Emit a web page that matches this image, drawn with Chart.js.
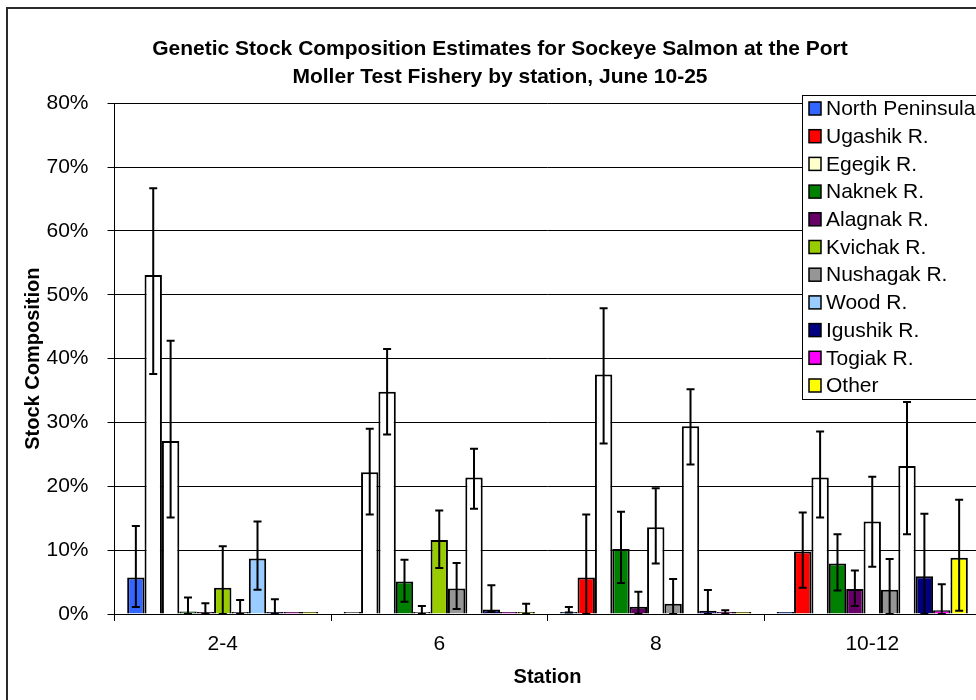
<!DOCTYPE html>
<html><head><meta charset="utf-8">
<script src="https://cdn.jsdelivr.net/npm/chart.js@4.4.1/dist/chart.umd.min.js"></script>
<style>
html,body{margin:0;padding:0;background:#fff;}
#wrap{position:relative;width:976px;height:700px;overflow:hidden;background:#fff;}
#frame{position:absolute;left:6px;top:7px;width:1100px;height:800px;border:2px solid #2b2b2b;pointer-events:none;}
canvas{position:absolute;left:0;top:0;}
</style></head><body>
<div id="wrap"><canvas id="c" width="1000" height="720"></canvas><div id="frame"></div></div>
<script>
// ---- data (percent) ----
const stations = ['2-4', '6', '8', '10-12'];
const stocks = ['North Peninsula', 'Ugashik R.', 'Egegik R.', 'Naknek R.', 'Alagnak R.', 'Kvichak R.', 'Nushagak R.', 'Wood R.', 'Igushik R.', 'Togiak R.', 'Other'];
const yTickLabels = ['0%', '10%', '20%', '30%', '40%', '50%', '60%', '70%', '80%'];

const northPeninsula = [5.7, 0.2, 0.25, 0.05];
const ugashik        = [53.1, 22.2, 5.7, 9.8];
const egegik         = [27.1, 34.8, 37.5, 21.4];
const naknek         = [0.4, 5.1, 10.2, 7.9];
const alagnak        = [0.2, 0.2, 1.15, 3.9];
const kvichak        = [4.1, 11.6, 13.6, 14.5];
const nushagak       = [0.25, 4.0, 1.6, 3.8];
const wood           = [8.7, 21.4, 29.4, 23.2];
const igushik        = [0.3, 0.7, 0.5, 5.9];
const togiak         = [0.1, 0, 0.1, 0.6];
const other          = [0.05, 0.2, 0.05, 8.8];

// lower / upper interval bounds
const northPeninsulaLow = [1.1, 0.2, 0.25, 0.05], northPeninsulaHigh = [13.8, 0.2, 1.1, 0.05];
const ugashikLow  = [37.6, 15.6, 0, 4.1],   ugashikHigh  = [66.7, 29.0, 15.6, 15.9];
const egegikLow   = [15.1, 28.1, 26.7, 15.1], egegikHigh = [42.8, 41.5, 47.9, 28.6];
const naknekLow   = [0, 1.9, 4.85, 3.7],     naknekHigh   = [2.6, 8.5, 16.0, 12.5];
const alagnakLow  = [0, 0, 0, 1.25],         alagnakHigh  = [1.7, 1.25, 3.5, 6.8];
const kvichakLow  = [0, 7.2, 7.9, 7.4],      kvichakHigh  = [10.6, 16.2, 19.7, 21.5];
const nushagakLow = [0, 0.8, 0, 0],          nushagakHigh = [2.2, 8.0, 5.5, 8.6];
const woodLow     = [3.8, 16.5, 23.4, 12.5], woodHigh     = [14.5, 25.9, 35.2, 33.2];
const igushikLow  = [0, 0.3, 0, 0],          igushikHigh  = [2.3, 4.5, 3.75, 15.7];
const togiakLow   = [0.1, 0, 0, 0],          togiakHigh   = [0.1, 0, 0.6, 4.65];
const otherLow    = [0.05, 0, 0.05, 0.5],    otherHigh    = [0.05, 1.6, 0.05, 17.9];

// ---- styles ----
const stockColors = ['#3366FF', '#FF0000', '#FFFFCC', '#008000', '#660066', '#99CC00', '#969696', '#99CCFF', '#000080', '#FF00FF', '#FFFF00'];
// bars drawn with white fill in the original: [stockIndex, stationIndex]
const whiteBars = [[1,0],[2,0],[0,1],[1,1],[2,1],[4,1],[7,1],[2,2],[5,2],[7,2],[2,3],[5,3],[7,3]];
const FONT = '"Liberation Sans", Arial, sans-serif';

const values = [northPeninsula, ugashik, egegik, naknek, alagnak, kvichak, nushagak, wood, igushik, togiak, other];
const lows = [northPeninsulaLow, ugashikLow, egegikLow, naknekLow, alagnakLow, kvichakLow, nushagakLow, woodLow, igushikLow, togiakLow, otherLow];
const highs = [northPeninsulaHigh, ugashikHigh, egegikHigh, naknekHigh, alagnakHigh, kvichakHigh, nushagakHigh, woodHigh, igushikHigh, togiakHigh, otherHigh];

const datasets = stocks.map((name, si) => ({
  label: name,
  data: values[si],
  errLow: lows[si],
  errHigh: highs[si],
  backgroundColor: stations.map((_, ci) => whiteBars.some(p => p[0] === si && p[1] === ci) ? '#FFFFFF' : stockColors[si]),
  borderColor: '#000',
  borderWidth: 2,
  minBarLength: 2,
  categoryPercentage: 0.883,
  barPercentage: 1
}));

const errorBars = {
  id: 'errorBars',
  afterDatasetsDraw(chart) {
    const ctx = chart.ctx, y = chart.scales.y;
    ctx.save();
    ctx.strokeStyle = '#000';
    ctx.lineWidth = 2;
    chart.data.datasets.forEach((ds, di) => {
      chart.getDatasetMeta(di).data.forEach((bar, i) => {
        const lo = ds.errLow[i], hi = ds.errHigh[i];
        if (hi - lo < 0.05) return;
        const x = bar.x, y1 = y.getPixelForValue(hi), y0 = y.getPixelForValue(lo);
        ctx.beginPath();
        ctx.moveTo(x, y0); ctx.lineTo(x, y1);
        ctx.moveTo(x - 4, y1); ctx.lineTo(x + 4, y1);
        ctx.moveTo(x - 4, y0); ctx.lineTo(x + 4, y0);
        ctx.stroke();
      });
    });
    ctx.restore();
  }
};

const boxLegend = {
  id: 'boxLegend',
  afterDraw(chart) {
    const ctx = chart.ctx;
    const left = 802, top = 95, w = 200, h = 304;
    ctx.save();
    ctx.fillStyle = '#fff';
    ctx.fillRect(left, top, w, h);
    ctx.strokeStyle = '#000';
    ctx.lineWidth = 1;
    ctx.strokeRect(left + 0.5, top + 0.5, w, h);
    ctx.font = '21px ' + FONT;
    ctx.textBaseline = 'middle';
    ctx.textAlign = 'left';
    chart.data.datasets.forEach((ds, i) => {
      const cy = 108.5 + i * 27.7;
      ctx.fillStyle = stockColors[i];
      ctx.fillRect(809, cy - 6.5, 12, 13);
      ctx.lineWidth = 1.5;
      ctx.strokeRect(809, cy - 6.5, 12, 13);
      ctx.fillStyle = '#000';
      ctx.fillText(ds.label, 826, cy + 1);
    });
    ctx.restore();
  }
};

new Chart(document.getElementById('c'), {
  type: 'bar',
  data: { labels: stations, datasets },
  plugins: [errorBars, boxLegend],
  options: {
    responsive: false,
    animation: false,
    devicePixelRatio: 1,
    layout: { padding: { left: 19.5, right: 19.5, top: 0, bottom: 20 } },
    plugins: {
      legend: { display: false },
      tooltip: { enabled: false },
      title: {
        display: true,
        text: ['Genetic Stock Composition Estimates for Sockeye Salmon at the Port', 'Moller Test Fishery by station, June 10-25'],
        font: { family: FONT, size: 21, weight: 'bold', lineHeight: 1.333 },
        color: '#000',
        padding: { top: 35, bottom: 12.3 }
      }
    },
    scales: {
      x: {
        grid: { display: true, drawOnChartArea: false, drawTicks: true, tickLength: 7, color: '#000', offset: true },
        border: { color: '#000', width: 1 },
        ticks: { font: { family: FONT, size: 21 }, color: '#000', padding: 11 },
        title: { display: true, text: 'Station', font: { family: FONT, size: 20, weight: 'bold' }, color: '#000', padding: { top: 0, bottom: 10.5 } },
        afterFit(s) { s.height = 86; }
      },
      y: {
        min: 0, max: 80,
        ticks: { stepSize: 10, callback: (v, i) => yTickLabels[i], font: { family: FONT, size: 21 }, color: '#000', padding: 19 },
        grid: { color: '#000', tickLength: 7 },
        border: { color: '#000', width: 1 },
        title: { display: true, text: 'Stock Composition', font: { family: FONT, size: 20, weight: 'bold' }, color: '#000', padding: { top: 1.5, bottom: 0 } },
        afterFit(s) { s.width = 95; }
      }
    }
  }
});
</script>
</body></html>
